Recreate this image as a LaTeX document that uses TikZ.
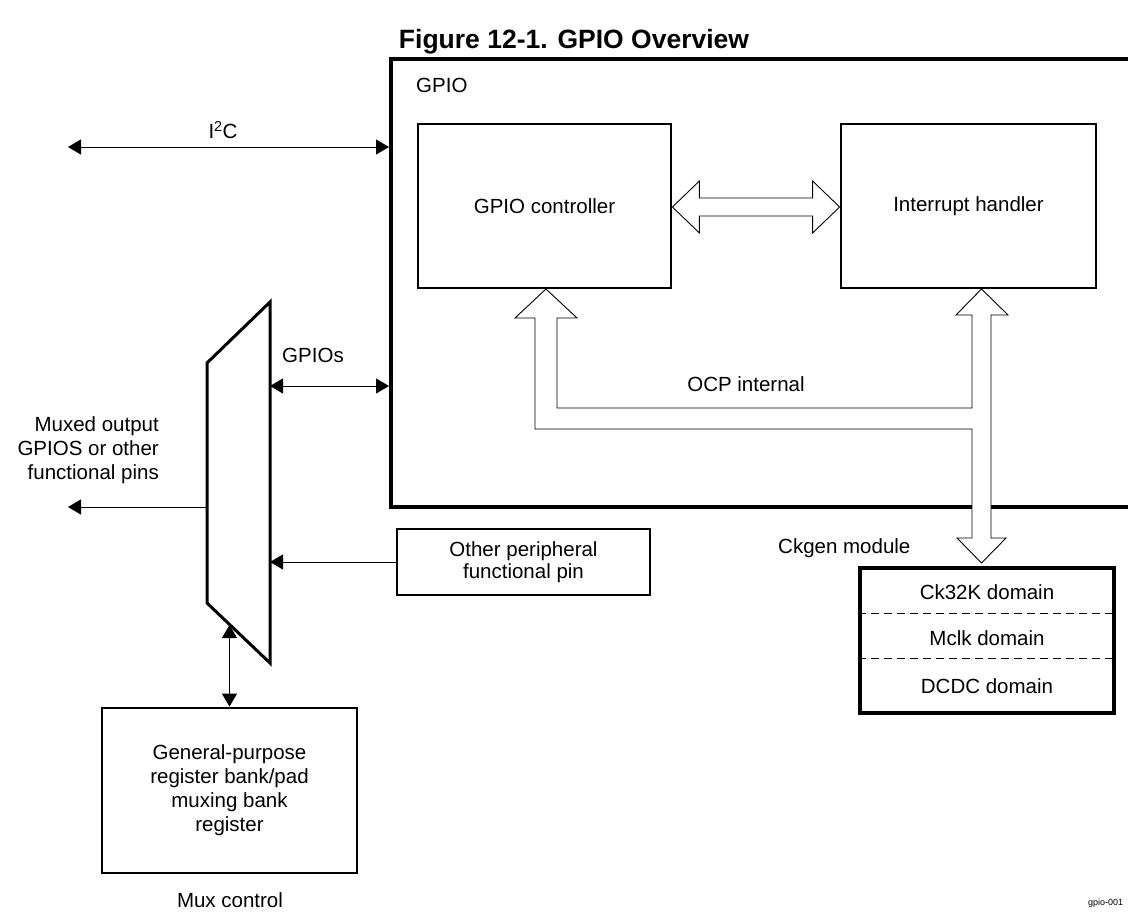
\documentclass[tikz,border=0pt]{standalone}
\usepackage{fontspec}
\setmainfont{Liberation Sans}
\usetikzlibrary{arrows.meta,calc}
\begin{document}
\begin{tikzpicture}[x=1pt,y=-1pt,
  font=\fontsize{20.5}{24}\selectfont,
  box/.style={draw, line width=2.8pt, inner sep=0pt, align=center},
  lbl/.style={inner sep=0pt, align=center},
  arr/.style={line width=1pt, -{Triangle[length=13pt,width=15pt]}},
  darr/.style={line width=1pt, {Triangle[length=13pt,width=15pt]}-{Triangle[length=13pt,width=15pt]}},
  bus/.style={draw, line width=0.9pt, fill=white, line join=miter},
  sep/.style={line width=0.9pt, dash pattern=on 8pt off 5pt}]
\useasboundingbox (0,0) rectangle (1128,911);

% title
\node[lbl, font=\bfseries\fontsize{26.5}{30}\selectfont] (title) at (574,42) {Figure 12-1. GPIO Overview};

% GPIO big box (runs off the right edge)
\node[box, line width=3.5pt, anchor=north west, minimum width=770pt, minimum height=448pt] (gpio) at (389,57) {};
\node[lbl, anchor=west] (gpiolbl) at (416,85) {GPIO};

% inner boxes
\node[box, minimum width=253pt, minimum height=164pt] (ctrl) at (544.5,206) {GPIO controller};
\node[box, minimum width=255pt, minimum height=164pt] (intr) at (968.5,206) {Interrupt handler};

% double hollow arrow between controller and interrupt handler
\path (ctrl.east |- 0,207) coordinate (hl) (intr.west |- 0,207) coordinate (hr);
\draw[bus] (hl) -- ++(27,-26) -- ++(0,17) -- ($(hr)+(-27,-9)$) -- ++(0,-17) -- (hr)
  -- ++(-27,26) -- ++(0,-17) -- ($(hl)+(27,9)$) -- ++(0,17) -- cycle;

% OCP internal bus
\path (546,289) coordinate (tipA) (981.5,289) coordinate (tipB) (981.5,563) coordinate (tipC);
\draw[bus] (991,315) -- (1008,315) -- (tipB) -- (956,315) -- (972,315) -- (972,408)
  -- (557,408) -- (557,318) -- (577,318) -- (tipA) -- (515,318) -- (535,318)
  -- (535,429) -- (972,429) -- (972,538) -- (957,538) -- (tipC) -- (1006,538)
  -- (991,538) -- cycle;
\node[lbl] (ocp) at (746,384) {OCP internal};

% Ckgen module
\node[lbl, anchor=west] (ckgenlbl) at (778,548) {Ckgen module};
\node[box, line width=3.2pt, minimum width=254pt, minimum height=145pt] (ckgen) at (987,640.5) {};
\draw[sep] (ckgen.west |- 0,613) -- (ckgen.east |- 0,613);
\draw[sep] (ckgen.west |- 0,658) -- (ckgen.east |- 0,658);
\node[lbl] (ck1) at (987,592) {Ck32K domain};
\node[lbl] (ck2) at (987,638) {Mclk domain};
\node[lbl] (ck3) at (987,686) {DCDC domain};

% I2C
\coordinate (i2cL) at (68,147);
\draw[darr] (i2cL) -- (gpio.west |- i2cL);
\node[lbl] (i2c) at (223,130) {I\textsuperscript{2}C};

% Mux
\path (270,302) coordinate (mTR) (270,663) coordinate (mBR)
      (207,603) coordinate (mBL) (207,363) coordinate (mTL);
\draw[line width=3pt, line join=miter] (mTL) -- (mTR) -- (mBR) -- (mBL) -- cycle;

\coordinate (gp) at (270,386);
\draw[darr] (gp) -- (gpio.west |- gp);
\node[lbl] (gpios) at (313,355) {GPIOs};

\coordinate (mo) at (207,507);
\coordinate (moL) at (68,507);
\draw[arr] (mo) -- (moL);
\node[lbl, anchor=east, align=right] (muxed) at (159,450) {Muxed output\\GPIOS or other\\functional pins};

\node[box, minimum width=253pt, minimum height=66pt, font=\fontsize{20.5}{22.5}\selectfont] (other) at (523.5,562) {Other peripheral\\functional pin};
\draw[arr] (other.west) -- (mTR |- other.west);

\node[box, minimum width=255pt, minimum height=165pt] (reg) at (229.5,790.5) {General-purpose\\register bank/pad\\muxing bank\\register};
\coordinate (mc) at (229.5,625);
\draw[darr] (reg.north) -- (mc);
\node[lbl] (muxctl) at (230,900) {Mux control};

\node[lbl, anchor=west, font=\fontsize{9}{11}\selectfont] (fig) at (1088,903) {gpio-001};
\end{tikzpicture}
\end{document}
